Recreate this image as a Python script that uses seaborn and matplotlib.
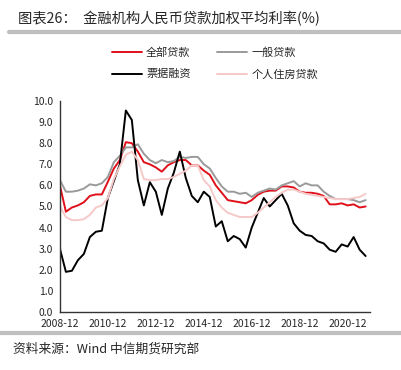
import numpy as np
import pandas as pd
import matplotlib
matplotlib.use("Agg")
import matplotlib.pyplot as plt
import seaborn as sns

# quarterly data, 2008-12 .. 2021-09
quarters = pd.date_range("2008-12-31", periods=52, freq="QE")

all_loans = [6.0, 4.75, 4.95, 5.05, 5.2, 5.5, 5.57, 5.57, 6.17, 6.8, 7.2, 8.05, 8.0, 7.6, 7.1, 7.0,
             6.85, 6.65, 6.95, 7.1, 7.2, 7.2, 6.95, 6.95, 6.7, 6.5, 6.0, 5.65, 5.3, 5.25, 5.2, 5.15,
             5.3, 5.55, 5.7, 5.75, 5.75, 5.95, 5.95, 5.9, 5.7, 5.65, 5.65, 5.6, 5.5, 5.1,
             5.1, 5.15, 5.05, 5.1, 4.95, 5.0]
general_loans = [6.25, 5.7, 5.7, 5.75, 5.85, 6.05, 6.0, 6.1, 6.4, 7.1, 7.4, 7.8, 7.8, 7.95, 7.5, 7.2,
                 7.05, 7.2, 7.1, 7.15, 7.35, 7.3, 7.35, 7.35, 7.0, 6.8, 6.35, 5.95, 5.7, 5.7, 5.6, 5.65,
                 5.45, 5.65, 5.75, 5.85, 5.8, 6.0, 6.1, 6.2, 5.95, 6.1, 6.0, 6.0, 5.7, 5.5,
                 5.35, 5.35, 5.35, 5.3, 5.2, 5.3]
bill_financing = [3.0, 1.9, 1.95, 2.45, 2.75, 3.55, 3.8, 3.85, 5.4, 6.2, 7.0, 9.55, 9.1, 6.25, 5.05, 6.15,
                  5.7, 4.6, 5.85, 6.6, 7.6, 6.35, 5.5, 5.2, 5.7, 5.45, 4.05, 4.3, 3.35, 3.6, 3.45, 3.05,
                  4.0, 4.7, 5.4, 5.0, 5.3, 5.6, 5.05, 4.2, 3.85, 3.65, 3.6, 3.35, 3.25, 2.95,
                  2.85, 3.2, 3.1, 3.55, 2.95, 2.65]
mortgage = [5.0, 4.5, 4.35, 4.35, 4.4, 4.6, 4.95, 5.05, 5.4, 6.3, 6.9, 7.45, 7.6, 7.2, 6.3, 6.25,
            6.25, 6.3, 6.3, 6.4, 6.55, 6.7, 6.95, 6.95, 6.25, 5.95, 5.3, 4.95, 4.7, 4.6, 4.5, 4.5,
            4.5, 4.7, 4.95, 5.2, 5.45, 5.65, 5.8, 5.8, 5.7, 5.6, 5.55, 5.5, 5.45, 5.4,
            5.35, 5.35, 5.35, 5.4, 5.45, 5.6]

series_names = ["全部贷款", "一般贷款", "票据融资", "个人住房贷款"]
colors = ["#e0101a", "#9a9a9a", "#000000", "#f6c9c9"]
tick_labels = ["2008-12", "2010-12", "2012-12", "2014-12", "2016-12", "2018-12", "2020-12"]

df = pd.DataFrame({"q": np.arange(len(quarters)),
                   "全部贷款": all_loans, "一般贷款": general_loans,
                   "票据融资": bill_financing, "个人住房贷款": mortgage})
long = df.melt(id_vars="q", var_name="series", value_name="rate")

sns.set_style("white")
plt.rcParams["font.family"] = ["Noto Sans CJK SC", "DejaVu Sans"]

fig = plt.figure(figsize=(4.02, 3.70), dpi=100)
ax = fig.add_axes([0.149, 0.157, 0.771, 0.570])

sns.lineplot(data=long, x="q", y="rate", hue="series", hue_order=series_names,
             palette=colors, linewidth=1.4, ax=ax, legend=False)

ax.set_xlim(0, 51.7)
ax.set_ylim(0, 10)
ax.set_yticks(np.arange(0, 10.5, 1))
ax.set_yticklabels([f"{v:.1f}" for v in np.arange(0, 10.5, 1)], fontsize=7.5)
ax.set_xticks(np.arange(0, 52, 8))
ax.set_xticklabels(tick_labels, fontsize=7.5)
ax.set_xlabel("")
ax.set_ylabel("")
for s in ["top", "right"]:
    ax.spines[s].set_visible(False)
for s in ["left", "bottom"]:
    ax.spines[s].set_color("#333333")
    ax.spines[s].set_linewidth(1.0)
ax.tick_params(axis="both", direction="out", length=3, width=0.8, color="#333333", pad=2)

# legend fills column-wise: order so rows read 全部/一般, 票据/个人
order = [0, 2, 1, 3]
handles = [plt.Line2D([], [], color=colors[i], lw=1.4) for i in order]
labels = [series_names[i] for i in order]
fig.legend(handles, labels, loc="center", bbox_to_anchor=(0.535, 0.828), ncol=2,
           frameon=False, fontsize=8, handlelength=2.7, columnspacing=2.4,
           labelspacing=1.0, handletextpad=0.4)

fig.text(0.045, 0.95, "图表26：  金融机构人民币贷款加权平均利率(%)", fontsize=10.3, va="center")
fig.add_artist(plt.Line2D([0.022, 1.0], [0.913, 0.913], color="#bfbfbf", lw=3,
                          transform=fig.transFigure))
fig.add_artist(plt.Line2D([0.0, 1.0], [0.1, 0.1], color="#bfbfbf", lw=3,
                          transform=fig.transFigure))
fig.text(0.032, 0.057, "资料来源：Wind 中信期货研究部", fontsize=9.2, va="center")

fig.savefig("out.png", dpi=100)
